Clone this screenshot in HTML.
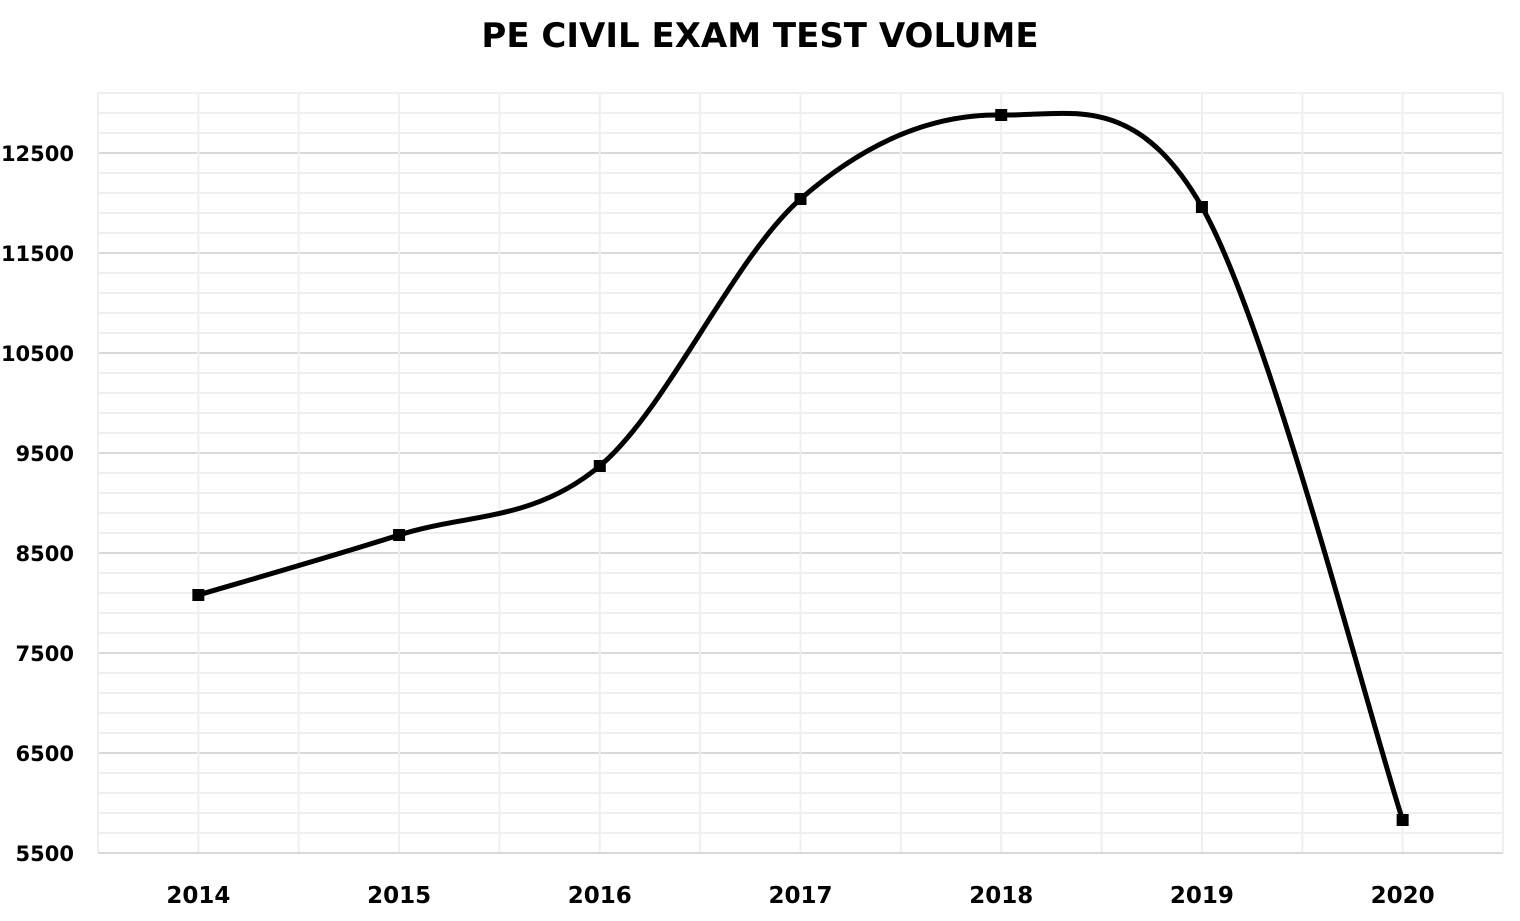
<!DOCTYPE html>
<html><head><meta charset="utf-8"><style>
body{margin:0;background:#fff;}
svg text{font-family:"Comic Sans MS","DejaVu Sans","Liberation Sans",sans-serif;font-weight:bold;fill:#000;}
</style></head><body>
<svg id="chart" width="1520" height="916" viewBox="0 0 1520 916" xmlns="http://www.w3.org/2000/svg">
<text x="760" y="47" text-anchor="middle" font-size="34">PE CIVIL EXAM TEST VOLUME</text>
<g id="grid"></g>
<g id="yt"></g>
<g id="xt"></g>
<path id="line" fill="none" stroke="#000" stroke-width="5"/>
<g id="pts"></g>
</svg>
<script>
const categories=["2014","2015","2016","2017","2018","2019","2020"];
const values=[8080,8680,9370,12040,12880,11960,5830];
const yTicks=[5500,6500,7500,8500,9500,10500,11500,12500];
const yMin=5500,yMax=13100,minorStep=200;
const L=98,R=1503,T=93,B=853;
const NS="http://www.w3.org/2000/svg";
const band=(R-L)/categories.length;
const x=i=>L+band*(i+0.5);
const y=v=>B-(v-yMin)/(yMax-yMin)*(B-T);
function mk(tag,attrs,parent){const e=document.createElementNS(NS,tag);for(const k in attrs)e.setAttribute(k,attrs[k]);parent.appendChild(e);return e;}
const g=document.getElementById('grid');
for(let v=yMin;v<=yMax+0.01;v+=minorStep){
  const major=((v-yMin)%1000)===0;
  const l=mk('line',{x1:L,x2:R,y1:y(v),y2:y(v),stroke:major?'#d9d9d9':'#efefef','stroke-width':2},g);
  
  
}
for(let i=0;i<=categories.length*2;i++){
  const xx=L+band*i/2;
  const l=mk('line',{x1:xx,x2:xx,y1:T,y2:B,stroke:'#efefef','stroke-width':2},g);
  
  
}
const ax=mk('line',{x1:L,x2:R,y1:B,y2:B,stroke:'#d9d9d9','stroke-width':2},g);


const yt=document.getElementById('yt');
yTicks.forEach(v=>{const t=mk('text',{x:74,y:y(v)+8,'text-anchor':'end','font-size':21},yt);t.textContent=v;
  
  });
const xt=document.getElementById('xt');
categories.forEach((c,i)=>{const t=mk('text',{x:x(i),y:903,'text-anchor':'middle','font-size':23},xt);t.textContent=c;
  
  });
const P=values.map((v,i)=>[x(i),y(v)]);
let d='M'+P[0][0]+','+P[0][1];
for(let i=0;i<P.length-1;i++){
  const p0=P[Math.max(0,i-1)],p1=P[i],p2=P[i+1],p3=P[Math.min(P.length-1,i+2)];
  const c1=[p1[0]+(p2[0]-p0[0])/6,p1[1]+(p2[1]-p0[1])/6];
  const c2=[p2[0]-(p3[0]-p1[0])/6,p2[1]-(p3[1]-p1[1])/6];
  d+=' C'+c1+' '+c2+' '+p2;
}
document.getElementById('line').setAttribute('d',d);
const pts=document.getElementById('pts');
P.forEach(p=>{const r=mk('rect',{x:p[0]-6,y:p[1]-6,width:12,height:12,fill:'#000'},pts);
  
  });
</script>
</body></html>
